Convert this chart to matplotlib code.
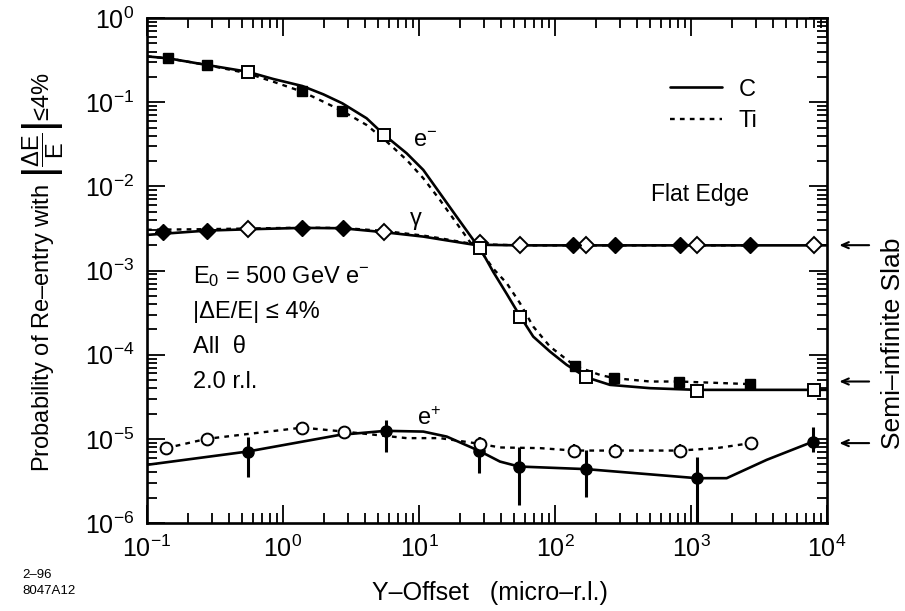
import matplotlib.pyplot as plt
from matplotlib.lines import Line2D
from matplotlib.ticker import LogLocator, NullFormatter
import numpy as np

plt.rcParams["font.family"] = ["Liberation Sans", "DejaVu Sans"]
plt.rcParams["mathtext.fontset"] = "custom"
plt.rcParams["mathtext.rm"] = "Liberation Sans"
plt.rcParams["mathtext.it"] = "Liberation Sans:italic"
plt.rcParams["mathtext.bf"] = "Liberation Sans:bold"
plt.rcParams["mathtext.sf"] = "Liberation Sans"
plt.rcParams["mathtext.default"] = "regular"

# --- e- : smooth curves and simulated points ---
em_c_curve_x = [0.1, 0.1435, 0.275, 0.55, 0.849, 1.387, 1.98, 2.73, 4.12, 5.56, 8.12,
                10.76, 14.26, 18.9, 25.1, 28.1, 35.2, 44.2, 53.7, 69.2, 91.8, 121.9,
                169, 253.6, 500, 1102, 10000]
em_c_curve_y = [0.35, 0.332, 0.277, 0.230, 0.1886, 0.1557, 0.124, 0.097, 0.0644, 0.0408,
                0.0247, 0.01567, 0.00828, 0.00437, 0.00231, 0.00184, 9.6e-4, 5.27e-4,
                3.11e-4, 1.64e-4, 1.09e-4, 7.57e-5, 5.41e-5, 4.38e-5, 4.0e-5, 3.82e-5, 3.82e-5]
em_ti_curve_x = [0.1, 0.1435, 0.275, 0.55, 0.849, 1.387, 1.98, 2.73, 4.12, 5.79, 8.12,
                 10.76, 14.26, 18.9, 25.1, 28.1, 35.2, 44.2, 55.3, 69.2, 91.8, 140, 214,
                 273, 500, 820, 2718]
em_ti_curve_y = [0.35, 0.332, 0.277, 0.220, 0.175, 0.1332, 0.1014, 0.0786, 0.0536, 0.034,
                 0.0206, 0.01248, 0.00689, 0.00365, 0.00192, 0.00175, 1.05e-3, 7.06e-4,
                 4.09e-4, 2.16e-4, 1.25e-4, 7.36e-5, 5.75e-5, 5.26e-5, 4.8e-5, 4.8e-5, 4.47e-5]
em_c_x = [0.55, 5.56, 28.1, 55.3, 169, 1102, 8072]
em_c_y = [0.230, 0.0408, 1.84e-3, 2.84e-4, 5.41e-5, 3.75e-5, 3.82e-5]
em_c_lo = [0.230, 0.0408, 1.84e-3, 2.84e-4, 4.6e-5, 3.3e-5, 3.82e-5]
em_ti_x = [0.1435, 0.275, 1.387, 2.73, 140.3, 273, 820, 2718]
em_ti_y = [0.332, 0.277, 0.137, 0.0786, 7.36e-5, 5.26e-5, 4.80e-5, 4.47e-5]

# --- photons ---
g_c_curve_x = [0.1, 0.275, 0.55, 1.387, 2.73, 5.56, 10.76, 14.26, 25.1, 55.3, 10000]
g_c_curve_y = [2.65e-3, 2.98e-3, 3.09e-3, 3.21e-3, 3.18e-3, 2.85e-3, 2.53e-3, 2.35e-3,
               2.03e-3, 1.99e-3, 1.99e-3]
g_ti_curve_x = [0.1, 0.275, 1.387, 2.78, 5.56, 10.76, 14.26, 25.1, 55.3, 2716]
g_ti_curve_y = [3.05e-3, 3.1e-3, 3.23e-3, 3.2e-3, 2.95e-3, 2.6e-3, 2.42e-3, 2.06e-3,
                1.99e-3, 1.99e-3]
g_c_x = [0.55, 5.56, 28.1, 55.3, 169, 1102, 8072]
g_c_y = [3.09e-3, 2.85e-3, 2.15e-3, 1.99e-3, 1.99e-3, 1.99e-3, 2.0e-3]
g_ti_x = [0.132, 0.275, 1.387, 2.78, 136, 276, 830, 2716]
g_ti_y = [2.9e-3, 2.98e-3, 3.23e-3, 3.18e-3, 1.99e-3, 1.99e-3, 2.0e-3, 1.99e-3]

# --- e+ ---
ep_c_curve_x = [0.1, 0.55, 2.63, 5.69, 10.76, 16.0, 27.7, 39.4, 54.3, 169, 1102, 1830,
                3602, 7925]
ep_c_curve_y = [4.91e-6, 7.07e-6, 1.116e-5, 1.245e-5, 1.22e-5, 1.064e-5, 7.2e-6, 5.37e-6,
                4.69e-6, 4.37e-6, 3.41e-6, 3.41e-6, 5.63e-6, 9.29e-6]
ep_ti_curve_x = [0.138, 0.275, 1.387, 2.81, 8.12, 14.26, 28.1, 39.4, 77.6, 138, 276, 830,
                 1545, 2748]
ep_ti_curve_y = [7.76e-6, 1.0e-5, 1.36e-5, 1.22e-5, 1.02e-5, 1.02e-5, 8.72e-6, 7.9e-6,
                 7.76e-6, 7.26e-6, 7.26e-6, 7.26e-6, 7.76e-6, 8.89e-6]
ep_c_x = [0.55, 5.69, 27.7, 54.3, 169, 1102, 7925]
ep_c_y = [7.07e-6, 1.245e-5, 7.2e-6, 4.69e-6, 4.37e-6, 3.41e-6, 9.29e-6]
ep_c_lo = [3.57e-6, 7.07e-6, 3.95e-6, 1.64e-6, 2.06e-6, 5e-7, 7.0e-6]
ep_c_hi = [1.06e-5, 1.68e-5, 1.05e-5, 7.9e-6, 7.4e-6, 6.16e-6, 1.4e-5]
ep_ti_x = [0.138, 0.275, 1.387, 2.81, 28.1, 138, 276, 830, 2748]
ep_ti_y = [7.76e-6, 1.0e-5, 1.36e-5, 1.22e-5, 8.72e-6, 7.26e-6, 7.26e-6, 7.26e-6, 8.89e-6]
ep_ti_lo = [7.76e-6, 1.0e-5, 1.12e-5, 1.1e-5, 7.3e-6, 6.0e-6, 6.0e-6, 6.0e-6, 7.3e-6]
ep_ti_hi = [7.76e-6, 1.0e-5, 1.6e-5, 1.35e-5, 1.05e-5, 8.6e-6, 8.6e-6, 8.6e-6, 1.05e-5]

# semi-infinite slab values marked by arrows on the right
slab_levels = [2.0e-3, 4.8e-5, 8.9e-6]

SOLID = dict(color="black", lw=1.9, solid_capstyle="round")
DOTTED = dict(color="black", lw=1.7, ls=(0, (2.0, 2.2)))


def err(y, lo, hi):
    y = np.array(y)
    return [y - np.array(lo), np.array(hi) - y]


fig = plt.figure(figsize=(9.05, 6.11), dpi=100)
ax = fig.add_axes([0.1624, 0.1440, 0.7514, 0.8265])
ax.set_xscale("log")
ax.set_yscale("log")

# curves
ax.plot(em_c_curve_x, em_c_curve_y, **SOLID, zorder=2)
ax.plot(em_ti_curve_x, em_ti_curve_y, **DOTTED, zorder=2)
ax.plot(g_c_curve_x, g_c_curve_y, **SOLID, zorder=2)
ax.plot(g_ti_curve_x, g_ti_curve_y, **DOTTED, zorder=2)
ax.plot(ep_c_curve_x, ep_c_curve_y, **SOLID, zorder=2)
ax.plot(ep_ti_curve_x, ep_ti_curve_y, **DOTTED, zorder=2)

# points
ax.errorbar(em_c_x, em_c_y, yerr=err(em_c_y, em_c_lo, em_c_y), fmt="s", ms=8.5,
            mfc="white", mec="black", mew=1.4, ecolor="black", elinewidth=1.6, capsize=0, zorder=4)
ax.plot(em_ti_x, em_ti_y, "s", ms=7.5, mfc="black", mec="black", zorder=4)
ax.plot(g_c_x, g_c_y, "D", ms=8.5, mfc="white", mec="black", mew=1.4, zorder=4)
ax.plot(g_ti_x, g_ti_y, "D", ms=8.5, mfc="black", mec="black", zorder=4)
ax.errorbar(ep_c_x, ep_c_y, yerr=err(ep_c_y, ep_c_lo, ep_c_hi), fmt="o", ms=8,
            mfc="black", mec="black", ecolor="black", elinewidth=2.2, capsize=0, zorder=4)
ax.errorbar(ep_ti_x, ep_ti_y, yerr=err(ep_ti_y, ep_ti_lo, ep_ti_hi), fmt="o", ms=8.5,
            mfc="white", mec="black", mew=1.4, ecolor="black", elinewidth=1.6, capsize=0, zorder=4)

ax.set_xlim(0.1, 1e4)
ax.set_ylim(1e-6, 1)

for axis in (ax.xaxis, ax.yaxis):
    axis.set_major_locator(LogLocator(base=10, numticks=20))
    axis.set_minor_locator(LogLocator(base=10, subs=np.arange(2, 10), numticks=100))
    axis.set_minor_formatter(NullFormatter())
ax.tick_params(which="both", direction="in", top=True, right=True, width=1.3)
ax.tick_params(which="major", length=13, labelsize=18, pad=9)
ax.tick_params(which="minor", length=7)
for sp in ax.spines.values():
    sp.set_linewidth(1.9)

# labels
ax.text(-0.153, 0.497,
        r"Probability of Re–entry with $\left|\dfrac{\Delta E}{E}\right|$≤4%",
        transform=ax.transAxes, rotation=90, ha="center", va="center", fontsize=17)
ax.text(0.504, -0.138, "Y–Offset   (micro–r.l.)", transform=ax.transAxes,
        ha="center", va="center", fontsize=18)

# curve labels
ax.text(9.04, 0.0294, r"e$^{-}$", fontsize=17)
ax.text(8.59, 3.48e-3, "γ", fontsize=17)
ax.text(9.6, 1.47e-5, r"e$^{+}$", fontsize=17)

# run conditions
info = [r"E$_0$ = 500 GeV e$^{-}$", "|ΔE/E| ≤ 4%", "All  θ", "2.0 r.l."]
for i, line in enumerate(info):
    ax.text(0.0676, 0.475 - 0.0693 * i, line, transform=ax.transAxes,
            ha="left", va="baseline", fontsize=17)

ax.text(0.813, 0.65, "Flat Edge", transform=ax.transAxes, ha="center", va="center",
        fontsize=16.5)

handles = [Line2D([], [], **SOLID), Line2D([], [], **DOTTED)]
ax.legend(handles, ["C", "Ti"], loc="upper left", bbox_to_anchor=(0.769, 0.88),
          frameon=False, fontsize=17, handlelength=2.2, handletextpad=0.7,
          labelspacing=0.4, borderpad=0, borderaxespad=0)

# semi-infinite slab reference arrows
for lev in slab_levels:
    ax.annotate("", xy=(1.014, lev), xytext=(1.066, lev),
                xycoords=ax.get_yaxis_transform(),
                arrowprops=dict(arrowstyle="->,head_length=0.5,head_width=0.22",
                                color="black", lw=1.5),
                annotation_clip=False)
ax.text(1.097, 0.356, "Semi–infinite Slab", transform=ax.transAxes, rotation=90,
        ha="center", va="center", fontsize=19)

fig.text(22 / 905, 1 - 575 / 611, "2–96", fontsize=9.5, va="center")
fig.text(22 / 905, 1 - 591 / 611, "8047A12", fontsize=9.5, va="center")

fig.savefig("out.png", dpi=100, facecolor="white")
